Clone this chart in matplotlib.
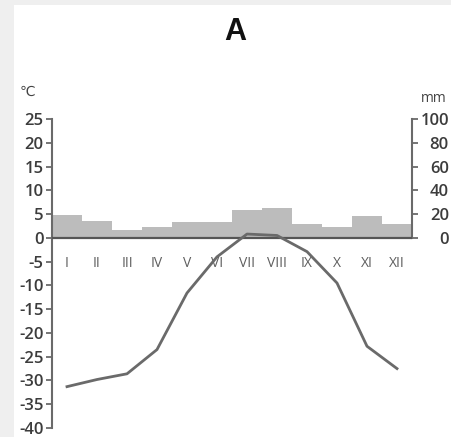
import matplotlib
matplotlib.use("Agg")
import matplotlib.pyplot as plt
from matplotlib.patches import Rectangle

months = ["I", "II", "III", "IV", "V", "VI", "VII", "VIII", "IX", "X", "XI", "XII"]
temp_c = [-31.3, -29.8, -28.6, -23.5, -11.6, -4.0, 0.8, 0.5, -2.9, -9.5, -22.8, -27.5]
precip_mm = [19.5, 14, 7, 9, 13.5, 13.5, 23.5, 25, 12, 9, 18, 12]
temp_ticks = [25, 20, 15, 10, 5, 0, -5, -10, -15, -20, -25, -30, -35, -40]
precip_ticks = [0, 20, 40, 60, 80, 100]
title = "A"

W, H = 452, 437
fig = plt.figure(figsize=(W / 100, H / 100), dpi=100, facecolor="#efefef")
fig.patches.append(Rectangle((14 / W, 0), 1 - 14 / W, (H - 5) / H,
                             transform=fig.transFigure, facecolor="white",
                             edgecolor="none", zorder=-10))

left, right = 52 / W, 412 / W
bottom, top = (H - 428) / H, (H - 119) / H
ax = fig.add_axes([left, bottom, right - left, top - bottom])
ax2 = ax.twinx()
ax.set_zorder(2)
ax2.set_zorder(1)
ax.patch.set_visible(False)

x = list(range(1, 13))
ax2.bar(x, precip_mm, width=1.0, color="#bcbcbc", edgecolor="none")
ax2.set_ylim(-160, 100)
ax.set_ylim(-40, 25)
ax.set_xlim(0.5, 12.5)

ax.axhline(0, color="#555555", lw=1.6, zorder=3)
ax.plot(x, temp_c, color="#6a6a6a", lw=2.0, solid_joinstyle="round", zorder=4)

fam = ["Open Sans", "DejaVu Sans"]
for xi, m in zip(x, months):
    ax.text(xi, -5.3, m, ha="center", va="center", fontsize=10,
            color="#5e5e5e", family=fam)

spine_c = "#6a6a6a"
for a in (ax, ax2):
    for s in a.spines.values():
        s.set_visible(False)
ax.spines["left"].set_visible(True)
ax.spines["left"].set_bounds(-40, 25)
ax.spines["left"].set_color(spine_c)
ax.spines["left"].set_linewidth(1.5)
ax2.spines["right"].set_visible(True)
ax2.spines["right"].set_bounds(0, 100)
ax2.spines["right"].set_color(spine_c)
ax2.spines["right"].set_linewidth(1.5)

ax.set_xticks([])
ax.set_yticks(temp_ticks)
ax.set_yticklabels([str(t) for t in temp_ticks])
ax.tick_params(axis="y", direction="out", length=4, width=1.3, color=spine_c,
               labelsize=12, labelcolor="#3c3c3c", pad=2)
ax2.set_yticks(precip_ticks)
ax2.set_yticklabels([str(t) for t in precip_ticks])
ax2.tick_params(axis="y", direction="out", length=4, width=1.3, color=spine_c,
                labelsize=12, labelcolor="#3c3c3c", pad=22.5)
for lbl in ax2.get_yticklabels():
    lbl.set_horizontalalignment("right")
for lbl in ax.get_yticklabels() + ax2.get_yticklabels():
    lbl.set_family(fam)
    lbl.set_fontweight("semibold")

fig.text(27 / W, 1 - 92 / H, "℃", ha="center", va="center", fontsize=10,
         color="#444444", family=fam)
fig.text(421 / W, 1 - 98 / H, "mm", ha="left", va="center", fontsize=10,
         color="#444444", family=fam)
fig.text(235 / W, 1 - 32 / H, title, ha="center", va="center", fontsize=22,
         fontweight="bold", color="#111111", family=["Liberation Sans", "DejaVu Sans"])

fig.savefig("out.png", dpi=100, facecolor=fig.get_facecolor())
